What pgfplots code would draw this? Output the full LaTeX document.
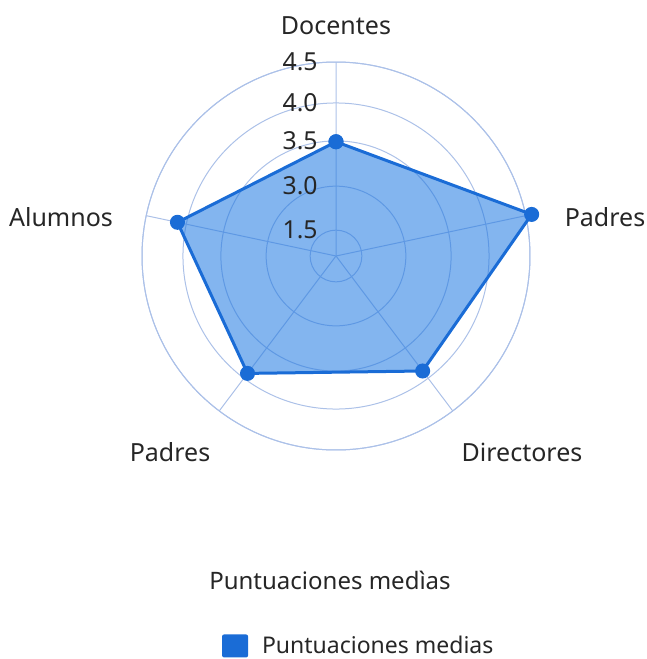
\documentclass[border=0pt]{standalone}
\usepackage{pgfplots}
\pgfplotsset{compat=1.18}
\usepgfplotslibrary{polar}
\usepackage{fontspec}
\setmainfont{Noto Sans}
\definecolor{lineblue}{RGB}{26,108,214}
\definecolor{fillblue}{RGB}{30,120,225}
\definecolor{gridcol}{RGB}{172,193,232}
\begin{document}
\begin{tikzpicture}
\begin{polaraxis}[
  scale only axis, width=194pt, height=194pt,
  xmin=0, xmax=360, ymin=0, ymax=4.5,
  xtick={90,12,307,233,168},
  ytick={0.6,1.62,2.67,3.55,4.5},
  xticklabels={}, yticklabels={},
  major tick length=0pt,
  grid=major,
  major grid style={gridcol, line width=0.5pt},
  x axis line style={gridcol, line width=0.5pt},
  y axis line style={draw=none},
  clip=false,
  legend style={at={(0.556,-0.505)}, anchor=center, draw=none, fill=none,
    inner sep=0pt, outer sep=0pt,
    font=\fontsize{11.5}{13}\selectfont, legend cell align=left,
    nodes={inner sep=0pt, text=black!85}},
  legend image code/.code={\fill[draw=none, fill=lineblue, fill opacity=1, rounded corners=1pt] (0pt,-5.75pt) rectangle (13pt,5.75pt);},
]
\addplot[lineblue, line width=1.5pt, fill=fillblue, fill opacity=0.55,
  mark=*, mark size=3pt, mark options={fill=lineblue, fill opacity=1}]
  coordinates {(90,2.65) (12,4.64) (307,3.34) (233,3.41) (168,3.76) (90,2.65)};
\addlegendentry{\hspace{7pt}Puntuaciones medias}
\coordinate (C) at (axis cs:0,0);
\foreach \r/\l in {0.6/1.5,1.62/3.0,2.67/3.5,3.55/4.0,4.5/4.5}{
  \edef\tmp{\noexpand\node[anchor=east, inner sep=0pt, font=\noexpand\fontsize{12.4}{14}\noexpand\selectfont, text=black!85] at (axis cs:90,\r) [xshift=-9pt] {\l};}
  \tmp
}
\end{polaraxis}
\begin{scope}[font=\fontsize{12.5}{14}\selectfont, text=black!85, every node/.style={inner sep=0pt}]
\node at ([shift={(0pt,115pt)}]C) {Docentes};
\node at ([shift={(134.5pt,19.5pt)}]C) {Padres};
\node at ([shift={(-137.5pt,19.5pt)}]C) {Alumnos};
\node at ([shift={(-83pt,-98pt)}]C) {Padres};
\node at ([shift={(93pt,-98pt)}]C) {Directores};
\node[font=\fontsize{12}{14}\selectfont] at ([shift={(-3pt,-162pt)}]C) {Puntuaciones medìas};
\end{scope}
\pgfresetboundingbox
\useasboundingbox ([shift={(-168pt,128pt)}]C) rectangle ([shift={(155.5pt,-201.5pt)}]C);
\end{tikzpicture}
\end{document}
